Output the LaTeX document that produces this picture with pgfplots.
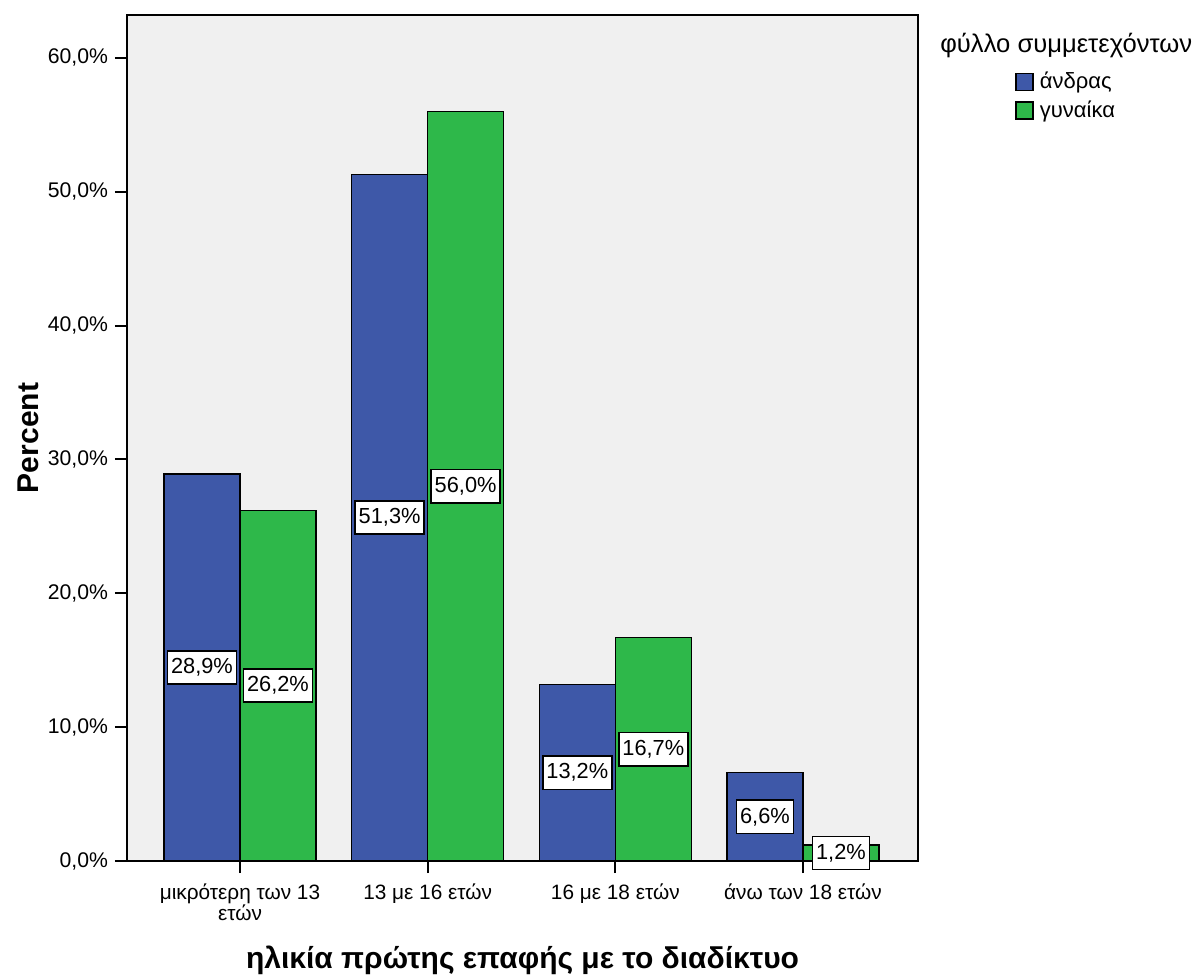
\documentclass[border=0pt]{standalone}
\usepackage{fontspec}
\setmainfont{Liberation Sans}
\usepackage{pgfplots}
\pgfplotsset{compat=1.18}
\definecolor{barblue}{RGB}{62,88,168}
\definecolor{bargreen}{RGB}{46,184,74}
\definecolor{bggray}{RGB}{240,240,240}
\begin{document}
\begin{tikzpicture}
\useasboundingbox (-63.5bp,-57.5bp) rectangle (535.5bp,430.5bp);
\begin{axis}[
  at={(0,0)}, anchor=south west,
  scale only axis,
  width=395.5bp, height=423bp,
  axis background/.style={fill=bggray},
  axis line style={line width=1bp},
  ybar=0pt, bar width=38bp,
  xmin=-0.602, xmax=3.613,
  ymin=0, ymax=63.2,
  xtick={0,1,2,3},
  xticklabels={{μικρότερη των 13\\[-0.8bp]ετών},{13 με 16 ετών},{16 με 18 ετών},{άνω των 18 ετών}},
  xticklabel style={align=center, font=\fontsize{10.4bp}{9.6bp}\selectfont, yshift=-2bp},
  ytick={0,10,20,30,40,50,60},
  yticklabel={\pgfmathprintnumber[fixed,fixed zerofill,precision=1,use comma]{\tick}\%},
  yticklabel style={font=\fontsize{10.6bp}{12bp}\selectfont},
  /pgf/number format/assume math mode=true,
  tick align=outside,
  xtick pos=bottom, ytick pos=left,
  major tick length=6bp,
  tick style={black, line width=1bp},
  every axis y label/.style={at={(axis description cs:-0.125,0.5)}, rotate=90, anchor=center, font=\bfseries\fontsize{15bp}{17bp}\selectfont},
  ylabel={Percent},
  every axis x label/.style={at={(axis description cs:0.5,-0.117)}, anchor=center, font=\bfseries\fontsize{15bp}{17bp}\selectfont},
  xlabel={ηλικία πρώτης επαφής με το διαδίκτυο},
  visualization depends on={y \as \rawy},
  nodes near coords={\pgfmathprintnumber[fixed,fixed zerofill,precision=1,use comma]{\pgfplotspointmeta}\%},
  nodes near coords style={anchor=center, shift={(axis direction cs:0,-\rawy/2)}, draw=black, fill=white, line width=0.75bp, inner xsep=1.8bp, inner ysep=3.8bp, font=\fontsize{10.9bp}{12bp}\selectfont, text=black},
  legend cell align=left,
  legend style={draw=none, fill=none, at={(1.1226,0.9365)}, anchor=north west, inner sep=0pt, row sep=1.5bp, column sep=1.5bp, font=\fontsize{11bp}{13.5bp}\selectfont,
    nodes={inner sep=1.5bp}},
  legend image code/.code={\draw[#1,draw=black,line width=0.75bp] (0bp,-4.25bp) rectangle (8.5bp,4.25bp);},
  clip=false,
]
\addplot[fill=barblue, draw=black, line width=0.75bp] coordinates {(0,28.9) (1,51.3) (2,13.2) (3,6.6)};
\addlegendentry{άνδρας}
\addplot[fill=bargreen, draw=black, line width=0.75bp] coordinates {(0,26.2) (1,56.0) (2,16.7) (3,1.2)};
\addlegendentry{γυναίκα}
\node[anchor=west, font=\fontsize{12.8bp}{14bp}\selectfont, inner sep=0pt] at (axis description cs:1.0278,0.9645) {φύλλο συμμετεχόντων};
\end{axis}
\end{tikzpicture}
\end{document}
